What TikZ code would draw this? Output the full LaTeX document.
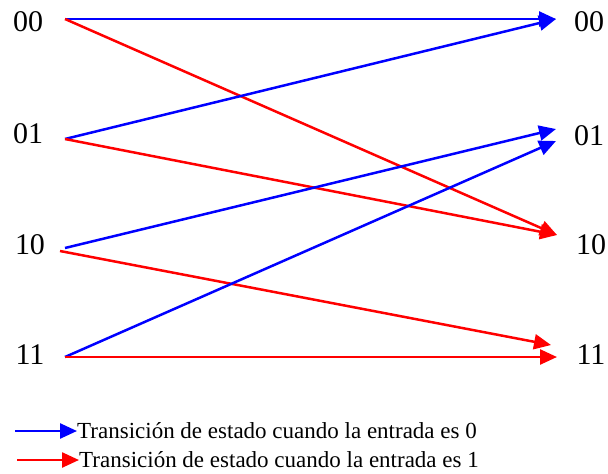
\documentclass[tikz,border=0pt]{standalone}
\usepackage{fontspec}
\setmainfont{Liberation Serif}
\usetikzlibrary{arrows.meta}
\begin{document}
\begin{tikzpicture}[x=1pt,y=-1pt,
  lbl/.style={inner sep=0pt,font=\fontsize{30}{34}\selectfont},
  legtxt/.style={inner sep=0pt,anchor=west,font=\fontsize{23}{27}\selectfont},
  zero/.style={draw={rgb,255:red,0;green,0;blue,255},line width=2.5pt,-{Triangle[length=17pt,width=15pt]}},
  one/.style={draw={rgb,255:red,255;green,0;blue,0},line width=2.5pt,-{Triangle[length=17pt,width=15pt]}}]
\useasboundingbox (0,0) rectangle (608,474);
% state labels
\node[lbl] (L00) at (28,22) {00};
\node[lbl] (L01) at (28,134) {01};
\node[lbl] (L10) at (30,245) {10};
\node[lbl] (L11) at (30,355) {11};
\node[lbl] (R00) at (589,22) {00};
\node[lbl] (R01) at (589,136) {01};
\node[lbl] (R10) at (591,245) {10};
\node[lbl] (R11) at (591,355) {11};
% start points
\coordinate (s00) at (65,19);
\coordinate (s01) at (65,139);
\coordinate (s10b) at (65,248);
\coordinate (s10r) at (60,251);
\coordinate (s11) at (65,357);
% end points
\coordinate (e00) at (556,19);
\coordinate (e01a) at (556,129);
\coordinate (e01b) at (556,141);
\coordinate (e10) at (557,235);
\coordinate (e11a) at (551,345);
\coordinate (e11b) at (557,357);
% transitions
\draw[zero] (s00) -- (e00);
\draw[one] (s00) -- (e10);
\draw[zero] (s01) -- (e00);
\draw[one] (s01) -- (e10);
\draw[zero] (s10b) -- (e01a);
\draw[one] (s10r) -- (e11a);
\draw[zero] (s11) -- (e01b);
\draw[one] (s11) -- (e11b);
% legend
\coordinate (lg0s) at (15,431);
\coordinate (lg0e) at (77,431);
\coordinate (lg1s) at (17,460);
\coordinate (lg1e) at (79,460);
\draw[zero] (lg0s) -- (lg0e);
\draw[one] (lg1s) -- (lg1e);
\node[legtxt] (T0) at (77,431) {Transición de estado cuando la entrada es 0};
\node[legtxt] (T1) at (79,460) {Transición de estado cuando la entrada es 1};
\end{tikzpicture}
\end{document}
